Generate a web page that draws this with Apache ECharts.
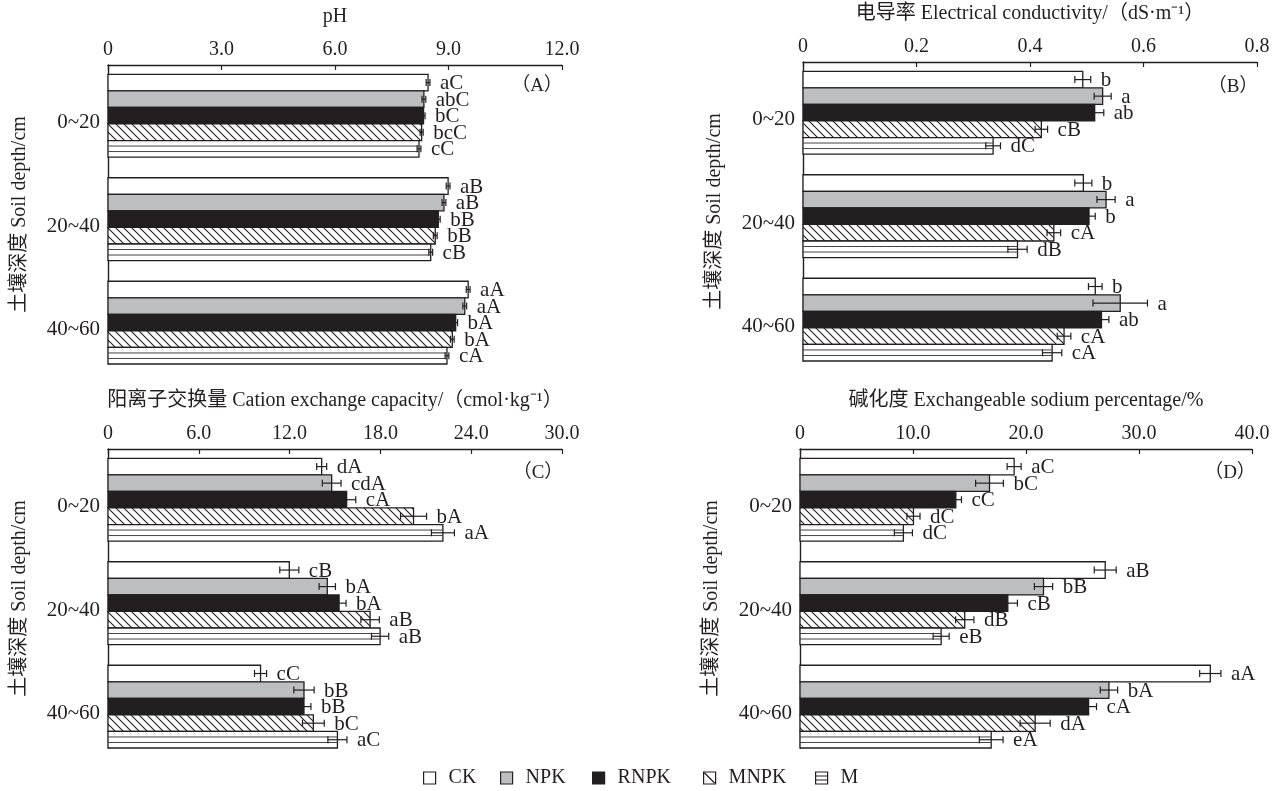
<!DOCTYPE html>
<html>
<head>
<meta charset="utf-8">
<script src="https://cdn.jsdelivr.net/npm/echarts@6/dist/echarts.min.js"></script>
<style>html,body{margin:0;padding:0;background:#fff;}#c{width:1282px;height:791px;}</style>
</head>
<body>
<div id="c"></div>
<script>
const depths = ['0~20', '20~40', '40~60'];
const treatments = ['CK', 'NPK', 'RNPK', 'MNPK', 'M'];

// pH (rows: CK, NPK, RNPK, MNPK, M; columns: depths)
const phMean = [[8.46, 8.99, 9.52], [8.35, 8.88, 9.43], [8.34, 8.73, 9.19], [8.29, 8.65, 9.10], [8.22, 8.53, 8.96]];
const phErr = [[0.05, 0.05, 0.05], [0.05, 0.05, 0.05], [0.04, 0.05, 0.05], [0.04, 0.05, 0.05], [0.05, 0.05, 0.05]];
const phLetters = [['aC', 'aB', 'aA'], ['abC', 'aB', 'aA'], ['bC', 'bB', 'bA'], ['bcC', 'bB', 'bA'], ['cC', 'cB', 'cA']];

// Electrical conductivity
const ecMean = [[0.493, 0.494, 0.515], [0.528, 0.534, 0.559], [0.514, 0.504, 0.526], [0.420, 0.442, 0.460], [0.335, 0.378, 0.439]];
const ecErr = [[0.014, 0.015, 0.012], [0.015, 0.016, 0.048], [0.016, 0.011, 0.013], [0.011, 0.012, 0.012], [0.013, 0.017, 0.017]];
const ecLetters = [['b', 'b', 'b'], ['a', 'a', 'a'], ['ab', 'b', 'ab'], ['cB', 'cA', 'cA'], ['dC', 'dB', 'cA']];

// Cation exchange capacity
const cecMean = [[14.12, 11.98, 10.08], [14.78, 14.49, 12.95], [15.77, 15.27, 12.95], [20.19, 17.32, 13.57], [22.13, 17.98, 15.16]];
const cecErr = [[0.33, 0.63, 0.40], [0.62, 0.54, 0.67], [0.60, 0.46, 0.46], [0.86, 0.61, 0.72], [0.76, 0.57, 0.63]];
const cecLetters = [['dA', 'cB', 'cC'], ['cdA', 'bA', 'bB'], ['cA', 'bA', 'bB'], ['bA', 'aB', 'bC'], ['aA', 'aB', 'aC']];

// Exchangeable sodium percentage
const espMean = [[18.95, 27.01, 36.31], [16.77, 21.55, 27.34], [13.79, 18.39, 25.54], [10.04, 14.58, 20.81], [9.15, 12.49, 16.92]];
const espErr = [[0.62, 0.97, 0.94], [1.23, 0.81, 0.77], [0.50, 0.85, 0.70], [0.58, 0.81, 1.33], [0.80, 0.71, 1.05]];
const espLetters = [['aC', 'aB', 'aA'], ['bC', 'bB', 'bA'], ['cC', 'cB', 'cA'], ['dC', 'dB', 'dA'], ['dC', 'eB', 'eA']];

const phTicks = [0, 3, 6, 9, 12];
const ecTicks = [0, 0.2, 0.4, 0.6, 0.8];
const cecTicks = [0, 6, 12, 18, 24, 30];
const espTicks = [0, 10, 20, 30, 40];

const FONT = "'Liberation Serif', 'Noto Sans CJK SC', serif";
const INK = '#231f20';
const GRAY = '#bcbec0';

// hatch pattern for MNPK
const hatch = document.createElement('canvas');
hatch.width = 8; hatch.height = 8;
(function () {
  const g = hatch.getContext('2d');
  g.fillStyle = '#fff'; g.fillRect(0, 0, 8, 8);
  g.strokeStyle = INK; g.lineWidth = 1.1;
  g.beginPath();
  g.moveTo(-1, -1); g.lineTo(9, 9);
  g.moveTo(-1, 7); g.lineTo(1, 9);
  g.moveTo(7, -1); g.lineTo(9, 1);
  g.stroke();
})();
const fills = ['#ffffff', GRAY, INK, {image: hatch, repeat: 'repeat'}, '#ffffff'];

const panels = [
  {mean: phMean, err: phErr, letters: phLetters, ticks: phTicks, title: 'pH', tag: '（A）',
   left: 108, top: 65, width: 454, tagX: 537, tagY: 86},
  {mean: ecMean, err: ecErr, letters: ecLetters, ticks: ecTicks, title: '电导率 Electrical conductivity/（dS·m⁻¹）', tag: '（B）',
   left: 803, top: 62, width: 454, tagX: 1233, tagY: 87},
  {mean: cecMean, err: cecErr, letters: cecLetters, ticks: cecTicks, title: '阳离子交换量 Cation exchange capacity/（cmol·kg⁻¹）', tag: '（C）',
   left: 108, top: 449, width: 454, tagX: 538, tagY: 473},
  {mean: espMean, err: espErr, letters: espLetters, ticks: espTicks, title: '碱化度 Exchangeable sodium percentage/%', tag: '（D）',
   left: 800, top: 449, width: 452, tagX: 1230, tagY: 473}
];

const grids = [], xAxes = [], yAxes = [], series = [], graphics = [];
panels.forEach(function (p, pi) {
  grids.push({left: p.left, top: p.top, width: p.width, height: 299});
  const tk = p.ticks;
  xAxes.push({
    gridIndex: pi, type: 'value', position: 'top',
    min: tk[0], max: tk[tk.length - 1], interval: tk[1] - tk[0],
    name: p.title, nameLocation: 'middle', nameGap: 38,
    nameTextStyle: {fontFamily: FONT, fontSize: 20, color: INK},
    axisLine: {show: true, onZero: false, lineStyle: {color: INK, width: 1.4}},
    axisTick: {show: true, inside: true, length: 5, lineStyle: {color: INK, width: 1.2}},
    axisLabel: {fontFamily: FONT, fontSize: 20, color: INK, margin: 5,
      formatter: function (v) { return v === 0 ? '0' : v.toFixed(1); }},
    splitLine: {show: false}
  });
  yAxes.push({
    gridIndex: pi, type: 'value', inverse: true, min: -0.49, max: 2.4,
    name: '土壤深度 Soil depth/cm', nameLocation: 'middle', nameGap: 78, nameRotate: 90,
    nameTextStyle: {fontFamily: FONT, fontSize: 20, color: INK},
    axisLine: {show: true, onZero: false, lineStyle: {color: INK, width: 1.4}},
    axisTick: {show: false},
    axisLabel: {fontFamily: FONT, fontSize: 21, color: INK, margin: 8,
      customValues: [0.07, 1.07, 2.07],
      formatter: function (v) { return depths[Math.round(v)]; }},
    splitLine: {show: false}
  });
  graphics.push({type: 'text', x: p.tagX, y: p.tagY,
    style: {text: p.tag, font: '19px ' + FONT, fill: INK, align: 'center', verticalAlign: 'middle'}});

  treatments.forEach(function (t, ti) {
    const data = depths.map(function (d, di) { return [p.mean[ti][di], di, p.err[ti][di]]; });
    const letters = p.letters[ti];
    series.push({
      type: 'custom', name: t, xAxisIndex: pi, yAxisIndex: pi,
      encode: {x: 0, y: 1},
      data: data,
      renderItem: function (params, api) {
        const v = api.value(0), c = api.value(1), e = api.value(2);
        const band = Math.abs(api.size([0, 1])[1]);
        const barH = band * 0.16;
        const base = api.coord([0, c]);
        const yTop = base[1] - 0.4 * band + ti * barH;
        const yc = yTop + barH / 2;
        const x0 = base[0];
        const x1 = api.coord([v, c])[0];
        const xa = api.coord([v - e, c])[0];
        const xb = api.coord([v + e, c])[0];
        const children = [];
        children.push({type: 'rect', shape: {x: x0, y: yTop, width: x1 - x0, height: barH},
          style: {fill: fills[ti], stroke: INK, lineWidth: 1.3}});
        if (ti === 4) {
          [1, 2].forEach(function (k) {
            const yy = yTop + barH * k / 3;
            children.push({type: 'line', shape: {x1: x0, y1: yy, x2: x1, y2: yy},
              style: {stroke: '#444', lineWidth: 1}});
          });
        }
        children.push({type: 'line', shape: {x1: xa, y1: yc, x2: xb, y2: yc}, style: {stroke: INK, lineWidth: 1.2}});
        children.push({type: 'line', shape: {x1: xa, y1: yc - 3.5, x2: xa, y2: yc + 3.5}, style: {stroke: INK, lineWidth: 1.2}});
        children.push({type: 'line', shape: {x1: xb, y1: yc - 3.5, x2: xb, y2: yc + 3.5}, style: {stroke: INK, lineWidth: 1.2}});
        children.push({type: 'text', x: xb + 10, y: yc + 1,
          style: {text: letters[params.dataIndex], font: '21px ' + FONT, fill: INK, align: 'left', verticalAlign: 'middle'}});
        return {type: 'group', children: children};
      }
    });
  });
});

const legendIcons = [
  'path://M0,0L12,0L12,12L0,12Z',
  'path://M0,0L12,0L12,12L0,12Z',
  'path://M0,0L12,0L12,12L0,12Z',
  'path://M0,0L12,0L12,12L0,12ZM1,1L11,11',
  'path://M0,0L12,0L12,12L0,12ZM0,4L12,4M0,8L12,8'
];
const legendFill = ['#ffffff', GRAY, INK, '#ffffff', '#ffffff'];
const legendLeft = [423, 500, 592, 703, 815];
const legends = treatments.map(function (t, ti) {
  return {
    left: legendLeft[ti], top: 768, padding: 0, itemWidth: 12, itemHeight: 12, itemGap: 0,
    selectedMode: false,
    textStyle: {fontFamily: FONT, fontSize: 20, color: INK, padding: [0, 0, 0, 8]},
    data: [{name: t, icon: legendIcons[ti],
      itemStyle: {color: legendFill[ti], borderColor: INK, borderWidth: 1.2}}]
  };
});

const chart = echarts.init(document.getElementById('c'), null, {renderer: 'canvas'});
chart.setOption({
  backgroundColor: '#ffffff',
  animation: false,
  textStyle: {fontFamily: FONT},
  grid: grids, xAxis: xAxes, yAxis: yAxes,
  legend: legends,
  series: series,
  graphic: graphics
});
</script>
</body>
</html>
